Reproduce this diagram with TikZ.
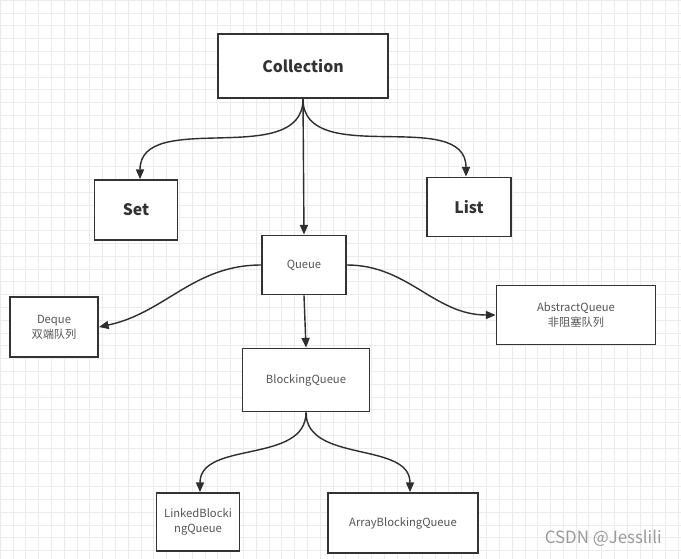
\documentclass[tikz,border=0pt]{standalone}
\usepackage{fontspec}
\setmainfont{Noto Sans CJK SC}
\usetikzlibrary{arrows.meta}

\begin{document}
\begin{tikzpicture}[x=0.02cm, y=-0.02cm,
    box/.style={draw=borderColour, line width=1.1pt, fill=white, inner sep=0pt, align=center, text=textColour},
    bigbox/.style={box, font=\fontsize{9}{11}\selectfont\bfseries, text=borderColour},
    smallbox/.style={box, font=\fontsize{6.4}{8.4}\selectfont},
    link/.style={draw=lineColour, line width=0.8pt, -{Triangle[length=5.5pt,width=4.6pt]}}]
    \definecolor{borderColour}{HTML}{333333}
    \definecolor{lineColour}{HTML}{2E2E2E}
    \definecolor{textColour}{HTML}{555555}
    \definecolor{gridColour}{HTML}{EBEBEB}
    \definecolor{markColour}{HTML}{9A9A9A}

    \useasboundingbox (0,0) rectangle (681,559);

    % Draw grid
    \fill[white] (0,0) rectangle (681,559);
    \draw[step=0.256cm, gridColour, very thin] (0,0) grid (681,559);

    % Top level
    \node[bigbox, minimum width=3.4cm, minimum height=1.28cm] (coll) at (303,66) {Collection};
    \node[bigbox, minimum width=1.66cm, minimum height=1.2cm] (set) at (136,210) {Set};
    \node[bigbox, minimum width=1.68cm, minimum height=1.18cm] (list) at (469,207) {List};

    % Queue branch
    \node[smallbox, minimum width=1.68cm, minimum height=1.18cm] (queue) at (304,265) {Queue};
    \node[smallbox, minimum width=1.76cm, minimum height=1.2cm] (deque) at (54,327) {Deque\\双端队列};
    \node[smallbox, minimum width=3.18cm, minimum height=1.18cm] (absq) at (576,315) {AbstractQueue\\非阻塞队列};
    \node[smallbox, minimum width=2.54cm, minimum height=1.26cm] (blockq) at (306,380) {BlockingQueue};

    % Blocking queue implementations
    \node[smallbox, minimum width=1.66cm, minimum height=1.16cm] (linkedq) at (198,522) {LinkedBlocki\\ngQueue};
    \node[smallbox, minimum width=3.0cm, minimum height=1.2cm] (arrayq) at (403,523) {ArrayBlockingQueue};

    % Draw arrows
    \draw[link] (coll.south) to[out=-90, in=90] ([xshift=0.08cm]set.north);
    \draw[link] (coll.south) -- (queue.north);
    \draw[link] (coll.south) to[out=-90, in=90] ([xshift=-0.06cm]list.north);
    \draw[link] (queue.west) to[out=180, in=12] (deque.east);
    \draw[link] (queue.east) to[out=0, in=180] (absq.west);
    \draw[link] (queue.south) -- (blockq.north);
    \draw[link] (blockq.south) to[out=-90, in=90] ([xshift=0.04cm]linkedq.north);
    \draw[link] (blockq.south) to[out=-90, in=90] ([xshift=0.14cm]arrayq.north);

    % Watermark
    \node[text=markColour, font=\fontsize{9.6}{11}\selectfont, anchor=east] (mark) at (668,538) {CSDN @Jesslili};

\end{tikzpicture}
\end{document}
